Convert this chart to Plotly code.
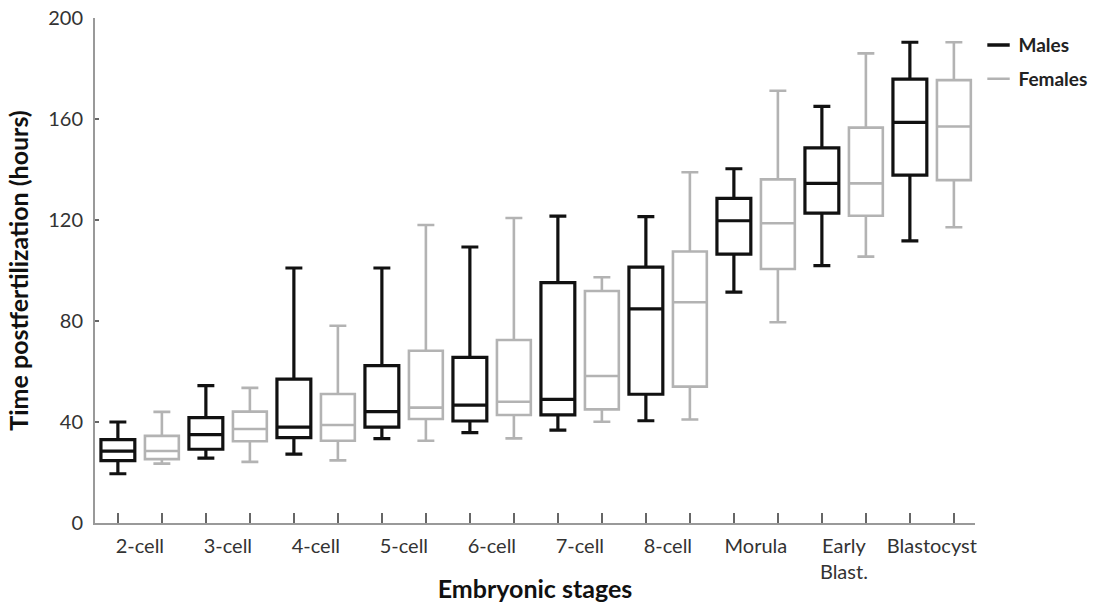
import plotly.graph_objects as go

stages = ["2-cell", "3-cell", "4-cell", "5-cell", "6-cell", "7-cell", "8-cell",
          "Morula", "Early<br>Blast.", "Blastocyst"]

male_low = [19.5, 25.7, 27.3, 33.4, 35.8, 36.8, 40.5, 91.4, 101.9, 111.7]
male_q1 = [24.7, 29.2, 33.8, 38.0, 40.4, 42.8, 51.0, 106.5, 122.7, 137.8]
male_med = [28.5, 35.0, 38.0, 44.1, 46.7, 49.0, 84.8, 119.7, 134.5, 158.7]
male_q3 = [33.0, 41.7, 57.0, 62.3, 65.6, 95.2, 101.3, 128.6, 148.6, 175.8]
male_high = [40.0, 54.4, 101.0, 101.0, 109.3, 121.5, 121.3, 140.3, 165.0, 190.4]

female_low = [23.5, 24.2, 24.8, 32.6, 33.5, 40.1, 41.0, 79.5, 105.5, 117.1]
female_q1 = [25.3, 32.4, 32.6, 41.2, 42.8, 45.0, 54.0, 100.6, 121.7, 135.8]
female_med = [28.5, 37.2, 38.8, 45.7, 48.0, 58.2, 87.4, 118.7, 134.5, 157.0]
female_q3 = [34.5, 44.1, 51.1, 68.2, 72.5, 91.9, 107.5, 136.1, 156.6, 175.4]
female_high = [44.0, 53.5, 78.1, 118.0, 120.8, 97.3, 138.9, 171.2, 186.0, 190.4]

n = len(stages)
male_x = [2 * i for i in range(n)]
female_x = [2 * i + 1 for i in range(n)]
center_x = [2 * i + 0.5 for i in range(n)]

MALE = "#111111"
FEMALE = "#b3b3b3"
FONT = "Lato, 'Open Sans', sans-serif"

fig = go.Figure()
fig.add_trace(go.Box(
    x=male_x, q1=male_q1, median=male_med, q3=male_q3,
    lowerfence=male_low, upperfence=male_high,
    width=0.77, whiskerwidth=0.5, boxpoints=False,
    line=dict(color=MALE, width=3.2), fillcolor="rgba(0,0,0,0)",
    showlegend=False, name="Males"))
fig.add_trace(go.Box(
    x=female_x, q1=female_q1, median=female_med, q3=female_q3,
    lowerfence=female_low, upperfence=female_high,
    width=0.77, whiskerwidth=0.5, boxpoints=False,
    line=dict(color=FEMALE, width=2.6), fillcolor="rgba(0,0,0,0)",
    showlegend=False, name="Females"))
# legend entries as short dashes
fig.add_trace(go.Scatter(x=[None], y=[None], mode="markers", name="Males",
                         legendgroup="m",
                         marker=dict(symbol="line-ew", size=18,
                                     line=dict(color=MALE, width=3.5))))
fig.add_trace(go.Scatter(x=[None], y=[None], mode="markers", name="Females",
                         legendgroup="f",
                         marker=dict(symbol="line-ew", size=18,
                                     line=dict(color=FEMALE, width=2.5))))

fig.update_layout(
    width=1102, height=603,
    margin=dict(l=95, r=127, t=18, b=80, autoexpand=False),
    plot_bgcolor="white", paper_bgcolor="white",
    boxmode="overlay",
    font=dict(family=FONT, color="#333333", size=20),
    legend=dict(x=1.004, y=0.984, xanchor="left", yanchor="top",
                font=dict(family=FONT, size=19, color="#222222", weight="bold"),
                tracegroupgap=6, bgcolor="rgba(0,0,0,0)"),
    xaxis=dict(
        range=[-0.52, 19.48], automargin=False,
        tickmode="array", tickvals=center_x, ticktext=stages,
        ticks="", ticklen=0,
        minor=dict(tickmode="array", tickvals=male_x + female_x,
                   ticks="inside", ticklen=10, tickwidth=1.5, tickcolor="#666666",
                   showgrid=False),
        showline=True, linecolor="#999999", linewidth=2,
        showgrid=False, zeroline=False,
        ticklabelstandoff=4,
        tickfont=dict(family=FONT, size=20, color="#333333"),
        title=dict(text="Embryonic stages", standoff=8,
                   font=dict(family=FONT, size=25, color="#111111", weight="bold")),
    ),
    yaxis=dict(
        range=[0, 200], tickvals=[0, 40, 80, 120, 160, 200], automargin=False,
        ticks="inside", ticklen=4, tickwidth=1.5, tickcolor="#666666",
        showline=True, linecolor="#999999", linewidth=2,
        showgrid=False, zeroline=False,
        ticklabelstandoff=6,
        tickfont=dict(family=FONT, size=20, color="#333333"),
        title=dict(text="Time postfertilization (hours)", standoff=12,
                   font=dict(family=FONT, size=25, color="#111111", weight="bold")),
    ),
)

fig.write_html("out.html")
